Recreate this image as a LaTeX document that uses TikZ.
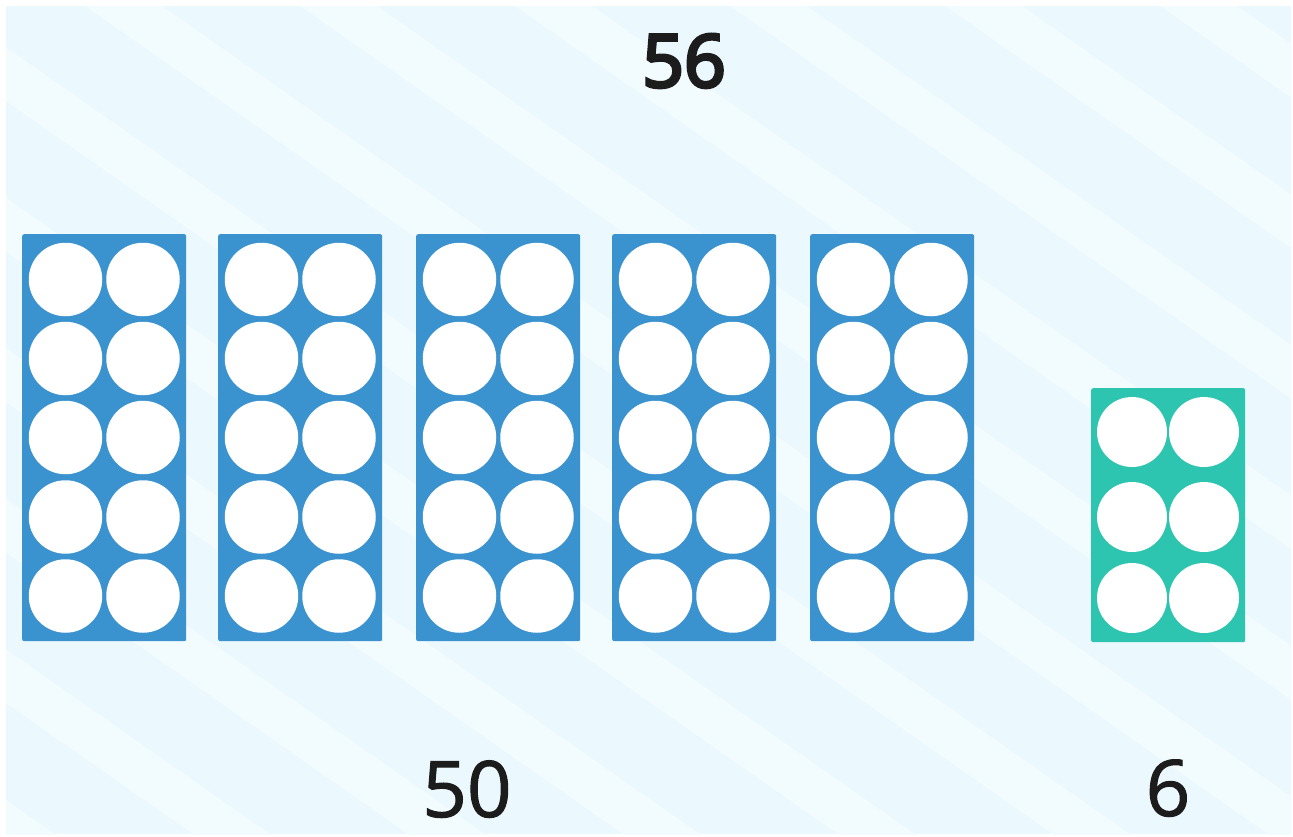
\documentclass[tikz,border=0pt]{standalone}
\usepackage{fontspec}
\setmainfont{Open Sans}
\newfontfamily\numsemibold{Open Sans}[FakeBold=4.5]
\newfontfamily\nummedium{Open Sans}[FakeBold=1.3]
\definecolor{bgA}{HTML}{EBF8FD}
\definecolor{bgB}{HTML}{F2FBFE}
\definecolor{frameblue}{HTML}{3A92CF}
\definecolor{framegreen}{HTML}{2DC5B0}
\definecolor{ink}{HTML}{1C1C1C}
\tikzset{
  tenframe/.style={fill=frameblue, draw=none, rounded corners=2pt, inner sep=0pt, minimum width=164pt, minimum height=407pt, anchor=north west},
  sixframe/.style={fill=framegreen, draw=none, rounded corners=2pt, inner sep=0pt, minimum width=154pt, minimum height=254pt, anchor=north west},
  counter/.style={circle, fill=white, draw=none, inner sep=0pt, minimum size=#1},
  numlabel/.style={text=ink, anchor=base, inner sep=0pt}
}
\begin{document}
\begin{tikzpicture}[x=1pt,y=-1pt]
\useasboundingbox (0,0) rectangle (1293,836);
\fill[white] (0,0) rectangle (1293,836);
\begin{scope}
  \clip (6,6) rectangle (1291,834);
  \fill[bgA] (6,6) rectangle (1291,834);
  \foreach \k in {-10,...,6} {
    \pgfmathsetmacro{\cc}{43+150.5*\k}
    \fill[bgB] (0,\cc) -- (1300,{\cc+910}) -- (1300,{\cc+910+54}) -- (0,{\cc+54}) -- cycle;
  }
\end{scope}
% blue ten frames
\foreach \i/\xx in {1/22,2/218,3/416,4/612,5/810} {
  \node[tenframe] (f\i) at (\xx,234) {};
  \foreach \r/\yy in {1/279.5,2/358.5,3/437.5,4/517,5/596} {
    \node[counter=73.5pt] (c\i-\r-1) at ({\xx+43.5},\yy) {};
    \node[counter=73.5pt] (c\i-\r-2) at ({\xx+121},\yy) {};
  }
}
% green frame
\node[sixframe] (g) at (1091,388) {};
\foreach \r/\yy in {1/432,2/517,3/598} {
  \node[counter=70pt] (g-\r-1) at (1132,\yy) {};
  \node[counter=70pt] (g-\r-2) at (1204,\yy) {};
}
% labels
\node[numlabel, font=\fontsize{73}{80}\numsemibold] (total) at (684,87) {56};
\node[numlabel, font=\fontsize{78}{84}\nummedium] (tens) at (467,817) {50};
\node[numlabel, font=\fontsize{78}{84}\nummedium] (ones) at (1168,816) {6};
\end{tikzpicture}
\end{document}
